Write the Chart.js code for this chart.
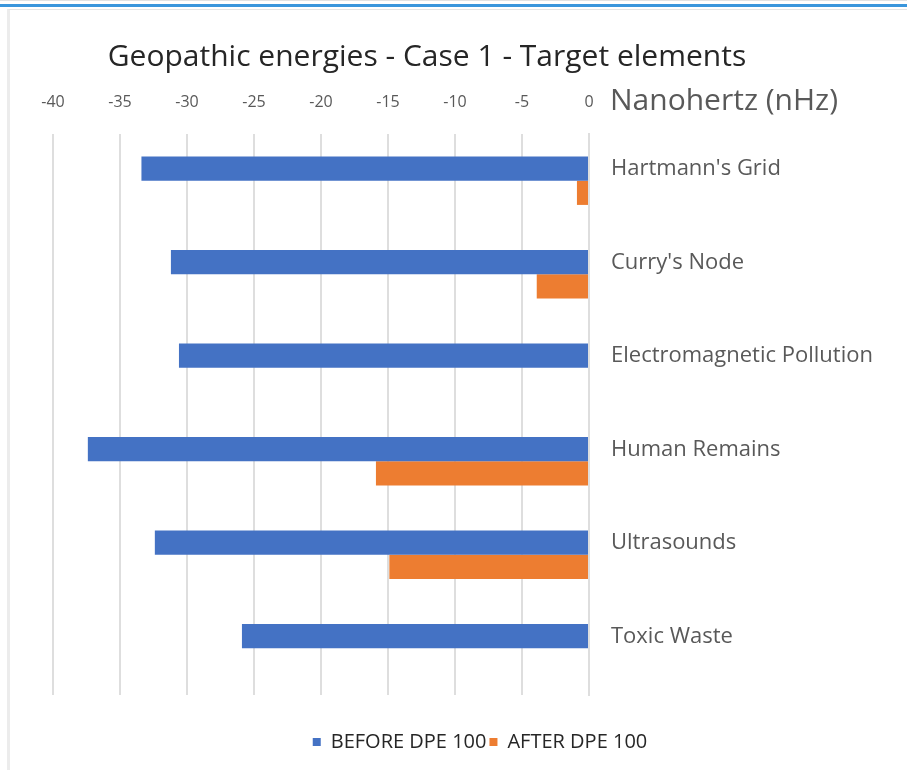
<!DOCTYPE html>
<html>
<head>
<meta charset="utf-8">
<script src="https://cdn.jsdelivr.net/npm/chart.js@4.4.0/dist/chart.umd.min.js"></script>
<style>
  html, body { margin: 0; padding: 0; background: #fff; }
  body { width: 907px; height: 770px; position: relative; overflow: hidden; }
  .line-top { position: absolute; left: 0; top: 0; width: 907px; height: 1px; background: #e2e2e2; }
  .line-blue { position: absolute; left: 0; top: 4px; width: 907px; height: 3px; background: #3a96dc; }
  .frame { position: absolute; left: 7px; top: 9px; width: 900px; height: 761px;
           border-left: 3px solid #ececec; border-top: 1px solid #e4e4e4; box-sizing: border-box; }
  #chart { position: absolute; left: 0; top: 0; }
</style>
</head>
<body>
<div class="line-top"></div>
<div class="line-blue"></div>
<div class="frame"></div>
<canvas id="chart" width="907" height="770"></canvas>
<script>
// Chart data
const chartTitle = 'Geopathic energies - Case 1 - Target elements';
const axisTitle = 'Nanohertz (nHz)';
const categories = ["Hartmann's Grid", "Curry's Node", 'Electromagnetic Pollution', 'Human Remains', 'Ultrasounds', 'Toxic Waste'];
const seriesNames = ['BEFORE DPE 100', 'AFTER DPE 100'];
const beforeValues = [-33.4, -31.2, -30.6, -37.4, -32.4, -25.9];
const afterValues = [-0.9, -3.9, 0, -15.9, -14.9, 0];
const xMin = -40;
const xMax = 0;
const xStep = 5;

const FONT = "'Open Sans'";
const GRAY = '#595959';

// Title and axis title drawn next to the top axis
const extraText = {
  id: 'extraText',
  afterDraw(chart) {
    const { ctx } = chart;
    const x = chart.scales.x;
    ctx.save();
    ctx.textBaseline = 'middle';
    ctx.fillStyle = '#262626';
    ctx.font = `30px ${FONT}`;
    ctx.textAlign = 'center';
    ctx.fillText(chartTitle, 427, 57);
    ctx.fillStyle = GRAY;
    ctx.font = `30px ${FONT}`;
    ctx.textAlign = 'left';
    ctx.fillText(axisTitle, x.right + 21, 101);
    ctx.restore();
  }
};

const ctx = document.getElementById('chart').getContext('2d');
new Chart(ctx, {
  type: 'bar',
  data: {
    labels: categories,
    datasets: [
      { label: seriesNames[0], data: beforeValues, backgroundColor: '#4472C4' },
      { label: seriesNames[1], data: afterValues, backgroundColor: '#ED7D31' }
    ]
  },
  options: {
    indexAxis: 'y',
    responsive: false,
    animation: false,
    devicePixelRatio: 1,
    layout: { padding: { left: 53, top: 0, right: 0, bottom: 8 } },
    datasets: { bar: { categoryPercentage: 0.517, barPercentage: 1.0 } },
    scales: {
      x: {
        position: 'top',
        min: xMin,
        max: xMax,
        ticks: { stepSize: xStep, color: GRAY, font: { family: FONT, size: 16 }, padding: 22 },
        grid: { color: '#dedede', lineWidth: 2, drawTicks: false },
        border: { display: false },
        afterFit(scale) { scale.height = 134; }
      },
      y: {
        position: 'right',
        ticks: { color: GRAY, font: { family: FONT, size: 22 }, padding: 22, labelOffset: -12 },
        grid: { display: false, drawTicks: false },
        border: { display: true, color: '#dedede', width: 2 },
        afterFit(scale) { scale.width = 318; }
      }
    },
    plugins: {
      title: { display: false },
      tooltip: { enabled: false },
      legend: {
        position: 'bottom',
        // empty title only used as spacer above the legend row
        title: { display: true, text: '', font: { size: 10 }, padding: { top: 22, bottom: 0 } },
        labels: {
          color: '#262626',
          font: { family: FONT, size: 20 },
          boxWidth: 8,
          boxHeight: 8,
          padding: 3
        }
      }
    }
  },
  plugins: [extraText]
});
</script>
</body>
</html>
